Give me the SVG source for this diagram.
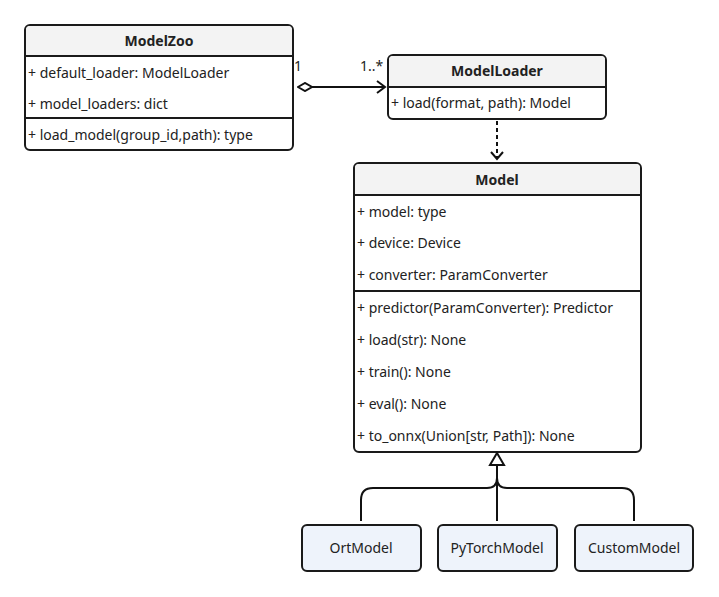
<svg xmlns="http://www.w3.org/2000/svg" width="719" height="597" viewBox="0 0 719 597">
<defs>
<style>
.box{fill:#ffffff;stroke:#1a1a1a;stroke-width:2}
.hdr{fill:#f3f3f3}
.sub{fill:#eef3fb;stroke:#1a1a1a;stroke-width:2}
.div{stroke:#1a1a1a;stroke-width:2}
text{font-family:"Noto Sans","Open Sans",sans-serif;font-size:14px;fill:#222222}
.t{font-weight:bold;text-anchor:middle}
.c{text-anchor:middle}
.ln{fill:none;stroke:#111;stroke-width:2}
</style>
<marker id="open" markerWidth="12" markerHeight="14" refX="10" refY="7" orient="auto" markerUnits="userSpaceOnUse"><path d="M2,1 L10,7 L2,13" fill="none" stroke="#111" stroke-width="2"/></marker>
<marker id="dia" markerWidth="18" markerHeight="10" refX="1" refY="5" orient="auto" markerUnits="userSpaceOnUse"><path d="M1,5 L8,1 L15,5 L8,9 Z" fill="#fff" stroke="#111" stroke-width="2"/></marker>
</defs>
<rect width="719" height="597" fill="#ffffff"/>
<g id="ModelZoo">
<rect class="box" x="25" y="25" width="268" height="125" rx="5"/>
<path class="hdr" d="M30,26 H288 Q292,26 292,30 V56 H26 V30 Q26,26 30,26 Z"/>
<line class="div" x1="25" y1="56" x2="293" y2="56"/>
<line class="div" x1="25" y1="118" x2="293" y2="118"/>
<text class="t" x="159" y="46">ModelZoo</text>
<text x="28" y="78">+ default_loader: ModelLoader</text>
<text x="28" y="109">+ model_loaders: dict</text>
<text x="28" y="140">+ load_model(group_id,path): type</text>
</g>
<g id="ModelLoader">
<rect class="box" x="388" y="55" width="218" height="64" rx="5"/>
<path class="hdr" d="M393,56 H601 Q605,56 605,60 V87 H389 V60 Q389,56 393,56 Z"/>
<line class="div" x1="388" y1="87" x2="606" y2="87"/>
<text class="t" x="497" y="76">ModelLoader</text>
<text x="391" y="108">+ load(format, path): Model</text>
</g>
<g id="Model">
<rect class="box" x="354" y="163" width="287" height="289" rx="5"/>
<path class="hdr" d="M359,164 H636 Q640,164 640,168 V195 H355 V168 Q355,164 359,164 Z"/>
<line class="div" x1="354" y1="195" x2="641" y2="195"/>
<line class="div" x1="354" y1="291" x2="641" y2="291"/>
<text class="t" x="497" y="185">Model</text>
<text x="357" y="217">+ model: type</text>
<text x="357" y="248">+ device: Device</text>
<text x="357" y="280">+ converter: ParamConverter</text>
<text x="357" y="313">+ predictor(ParamConverter): Predictor</text>
<text x="357" y="345">+ load(str): None</text>
<text x="357" y="377">+ train(): None</text>
<text x="357" y="409">+ eval(): None</text>
<text x="357" y="441">+ to_onnx(Union[str, Path]): None</text>
</g>
<g id="OrtModel">
<rect class="sub" x="302" y="525" width="119" height="46" rx="5"/>
<text class="c" x="361" y="553">OrtModel</text>
</g>
<g id="PyTorchModel">
<rect class="sub" x="438" y="525" width="119" height="46" rx="5"/>
<text class="c" x="497" y="553">PyTorchModel</text>
</g>
<g id="CustomModel">
<rect class="sub" x="575" y="525" width="118" height="46" rx="5"/>
<text class="c" x="634" y="553">CustomModel</text>
</g>
<g id="connectors">
<line class="ln" x1="298" y1="87" x2="385" y2="87" marker-start="url(#dia)" marker-end="url(#open)"/>
<text x="294" y="71" style="fill:#222222">1</text>
<text x="360" y="71" style="fill:#222222">1..*</text>
<line class="ln" x1="497" y1="121" x2="497" y2="159" stroke-dasharray="4,3"/>
<path class="ln" d="M491,152 L497,159 L503,152"/>
<path class="ln" d="M497,521 V465"/>
<path class="ln" d="M361,521 V500 Q361,488 373,488 H487 Q497,488 497,478"/>
<path class="ln" d="M634,521 V500 Q634,488 622,488 H507 Q497,488 497,478"/>
<path d="M497,453 L504,465 L490,465 Z" fill="#fff" stroke="#111" stroke-width="2"/>
</g>
</svg>
